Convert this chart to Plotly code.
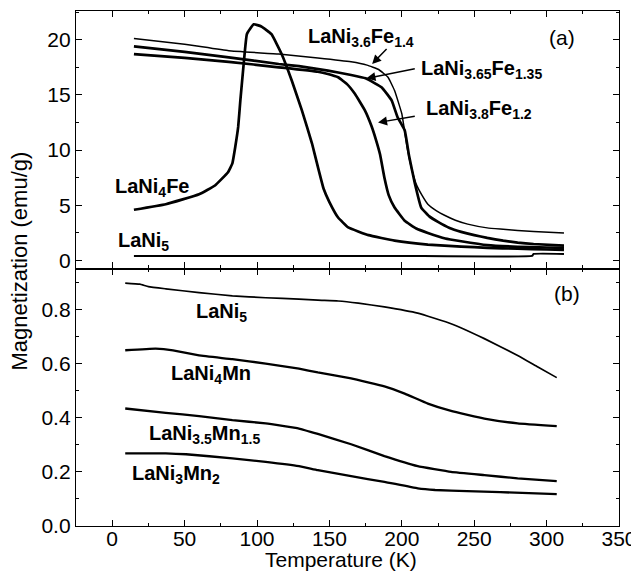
import plotly.graph_objects as go
from plotly.subplots import make_subplots

# ---- Panel (a): Fe-substituted, emu/g ----
t_ni4fe = [15, 37, 60, 71, 80, 83, 85, 87, 88.5, 91, 93, 97.7, 103, 110, 117, 124, 131, 138, 142, 146, 150, 156, 163, 177, 195, 218, 241, 259, 280, 300, 312]
m_ni4fe = [4.6, 5.1, 6.0, 6.8, 8.0, 8.8, 10.3, 12.1, 14.5, 18.1, 20.5, 21.4, 21.2, 20.5, 18.7, 16.3, 13.6, 10.6, 8.5, 6.5, 5.3, 3.9, 3.0, 2.3, 1.8, 1.45, 1.27, 1.15, 1.07, 1.0, 0.97]

t_36 = [15, 50, 80.5, 115, 142, 165, 176, 184, 190.5, 195, 200, 204, 207, 210, 214, 218, 224, 229.5, 237, 245.5, 259, 268, 280, 291, 312]
m_36 = [20.1, 19.6, 19.0, 18.7, 18.35, 18.0, 17.7, 17.3, 16.6, 15.4, 13.3, 10.0, 8.2, 6.9, 5.9, 5.1, 4.5, 4.1, 3.65, 3.3, 2.96, 2.85, 2.73, 2.63, 2.5]

t_365 = [15, 50, 80.5, 115, 129, 149, 165, 175, 186, 193, 197, 202, 205, 209, 213.4, 219, 225, 233, 241, 250, 259, 270, 280, 291, 312]
m_365 = [19.4, 18.9, 18.4, 17.8, 17.6, 17.2, 16.8, 16.5, 15.7, 14.5, 13.0, 11.8, 9.5, 7.0, 4.8, 4.0, 3.5, 2.95, 2.6, 2.3, 2.05, 1.8, 1.62, 1.5, 1.36]

t_38 = [15, 50, 80.5, 115, 142, 149, 156, 162, 167.6, 174.5, 179, 182, 185, 188, 191, 195, 202, 210, 218, 230, 241, 259, 280, 300, 312]
m_38 = [18.7, 18.35, 18.0, 17.5, 17.1, 16.9, 16.6, 16.0, 15.1, 13.6, 12.2, 11.0, 9.6, 7.5, 5.9, 4.8, 3.6, 2.9, 2.5, 2.0, 1.75, 1.4, 1.25, 1.18, 1.15]

t_ni5a = [15, 100, 200, 290, 291, 312]
m_ni5a = [0.42, 0.42, 0.42, 0.42, 0.6, 0.6]

# ---- Panel (b): Mn-substituted ----
t_ni5b = [9, 19, 25, 37, 60, 83, 106, 129, 142, 156, 170, 188, 211, 234, 257, 280, 294, 307]
m_ni5b = [0.897, 0.893, 0.884, 0.876, 0.862, 0.850, 0.843, 0.838, 0.834, 0.831, 0.823, 0.809, 0.786, 0.747, 0.692, 0.630, 0.587, 0.548]

t_ni4mn = [9, 30, 42, 60, 83, 106, 129, 142, 165, 188, 202, 218, 234, 257, 280, 307]
m_ni4mn = [0.649, 0.655, 0.649, 0.630, 0.616, 0.600, 0.581, 0.567, 0.545, 0.516, 0.489, 0.452, 0.425, 0.397, 0.379, 0.369]

t_35mn = [9, 37, 60, 83, 106, 129, 142, 165, 188, 211, 234, 257, 280, 307]
m_35mn = [0.434, 0.418, 0.406, 0.391, 0.379, 0.360, 0.340, 0.302, 0.258, 0.221, 0.200, 0.188, 0.176, 0.166]

t_3mn = [9, 37, 51, 83, 106, 129, 142, 165, 188, 211, 223, 245, 268, 307]
m_3mn = [0.268, 0.268, 0.265, 0.250, 0.237, 0.221, 0.206, 0.184, 0.163, 0.139, 0.133, 0.129, 0.125, 0.118]

FONT = "Liberation Sans, Arial, sans-serif"

fig = make_subplots(rows=2, cols=1, shared_xaxes=True, vertical_spacing=0)

def add(t, m, w, row):
    fig.add_trace(go.Scatter(x=t, y=m, mode="lines", line=dict(color="black", width=w, shape="spline", smoothing=0.3),
                             showlegend=False, hoverinfo="skip"), row=row, col=1)

add(t_ni4fe, m_ni4fe, 2.7, 1)
add(t_36, m_36, 1.5, 1)
add(t_365, m_365, 2.7, 1)
add(t_38, m_38, 2.7, 1)
add(t_ni5a, m_ni5a, 2.0, 1)

add(t_ni5b, m_ni5b, 1.7, 2)
add(t_ni4mn, m_ni4mn, 2.3, 2)
add(t_35mn, m_35mn, 2.3, 2)
add(t_3mn, m_3mn, 2.3, 2)

axis_common = dict(showline=True, linecolor="black", linewidth=1.3, mirror="ticks", ticks="inside",
                   ticklen=6, tickwidth=1.2, tickcolor="black", showgrid=False, zeroline=False,
                   tickfont=dict(family=FONT, size=21, color="black"),
                   minor=dict(ticks="inside", ticklen=3, tickwidth=1, tickcolor="black"))

fig.update_xaxes(range=[-25, 350], tick0=0, dtick=50, minor_dtick=25, **axis_common)
fig.update_xaxes(showticklabels=False, row=1, col=1)
fig.update_xaxes(ticklabelstandoff=-6, ticklabeloverflow="allow", row=2, col=1)
fig.update_yaxes(**axis_common)
fig.update_yaxes(range=[-0.72, 22.6], tick0=0, dtick=5, minor_dtick=2.5, row=1, col=1)
fig.update_yaxes(range=[0, 0.951], tick0=0, dtick=0.2, minor_dtick=0.1, tickformat=".1f", row=2, col=1)

# page body has an 8px default margin, so the figure is sized to fit the 639x574 window
fig.update_layout(width=631, height=566, margin=dict(l=68, r=17, t=2, b=48),
                  plot_bgcolor="white", paper_bgcolor="white",
                  font=dict(family=FONT, color="black"))

LBL = dict(family=FONT, size=20, color="black")

def label(text, x, y, xref="x", yref="y"):
    fig.add_annotation(text="<b>" + text + "</b>", x=x, y=y, xref=xref, yref=yref,
                       showarrow=False, font=LBL, xanchor="center", yanchor="middle")

def arrow(x, y, ax, ay):
    fig.add_annotation(text="", x=x, y=y, ax=ax, ay=ay, xref="x", yref="y", axref="x", ayref="y",
                       showarrow=True, arrowhead=2, arrowsize=1.2, arrowwidth=1.5, arrowcolor="black")

label("LaNi<sub>3.6</sub>Fe<sub>1.4</sub>", 172, 20.2)
label("LaNi<sub>3.65</sub>Fe<sub>1.35</sub>", 255, 17.3)
label("LaNi<sub>3.8</sub>Fe<sub>1.2</sub>", 253.4, 13.7)
label("LaNi<sub>4</sub>Fe", 27.3, 6.6)
label("LaNi<sub>5</sub>", 21.4, 1.7)
arrow(179.5, 17.8, 190.5, 19.3)
arrow(175.6, 16.5, 210, 17.4)
arrow(183.6, 12.5, 210, 13.1)
fig.add_annotation(text="(a)", x=310.8, y=20.2, xref="x", yref="y", showarrow=False,
                   font=dict(family=FONT, size=21, color="black"))

label("LaNi<sub>5</sub>", 75.4, 0.79, "x2", "y2")
label("LaNi<sub>4</sub>Mn", 68.5, 0.558, "x2", "y2")
label("LaNi<sub>3.5</sub>Mn<sub>1.5</sub>", 63.4, 0.337, "x2", "y2")
label("LaNi<sub>3</sub>Mn<sub>2</sub>", 44.1, 0.19, "x2", "y2")
fig.add_annotation(text="(b)", x=313.9, y=0.859, xref="x2", yref="y2", showarrow=False,
                   font=dict(family=FONT, size=21, color="black"))

fig.add_annotation(text="Magnetization (emu/g)", x=-0.1035, y=0.515, xref="paper", yref="paper",
                   textangle=-90, showarrow=False, xanchor="center", yanchor="middle",
                   font=dict(family=FONT, size=22, color="black"))
fig.add_annotation(text="Temperature (K)", x=0.488, y=-0.066, xref="paper", yref="paper",
                   showarrow=False, xanchor="center", yanchor="middle",
                   font=dict(family=FONT, size=21, color="black"))

fig.write_html("out.html")
